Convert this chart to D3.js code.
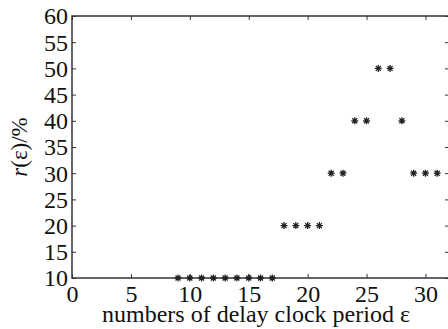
<!DOCTYPE html>
<html>
<head>
<meta charset="utf-8">
<script src="https://cdn.jsdelivr.net/npm/d3@7"></script>
<style>
  html, body { margin: 0; padding: 0; background: #fff; }
  svg { display: block; }
</style>
</head>
<body>
<div id="chart"></div>
<script>
// delay clock periods and the matching r(eps) values (%)
const periods = [9, 10, 11, 12, 13, 14, 15, 16, 17, 18, 19, 20, 21, 22, 23, 24, 25, 26, 27, 28, 29, 30, 31];
const rates   = [10, 10, 10, 10, 10, 10, 10, 10, 10, 20, 20, 20, 20, 30, 30, 40, 40, 50, 50, 40, 30, 30, 30];
const xTicks = [0, 5, 10, 15, 20, 25, 30];
const yTicks = [10, 15, 20, 25, 30, 35, 40, 45, 50, 55, 60];

const W = 448, H = 329;
const margin = { top: 16, right: -1, bottom: 51, left: 72 };
const width = W - margin.left - margin.right,
      height = H - margin.top - margin.bottom;
const serif = "Liberation Serif, Tinos, DejaVu Serif, Times New Roman, serif";

const svg = d3.select("#chart").append("svg")
    .attr("width", W)
    .attr("height", H);

const x = d3.scaleLinear().domain([0, 32]).range([0, width]);
const y = d3.scaleLinear().domain([10, 60]).range([height, 0]);

const g = svg.append("g")
    .attr("transform", "translate(" + margin.left + "," + margin.top + ")");

const axisColor = "#333";
const tickLen = 4;

// box
g.append("rect")
    .attr("x", 0).attr("y", 0)
    .attr("width", width).attr("height", height)
    .attr("fill", "none")
    .attr("stroke", axisColor)
    .attr("stroke-width", 1.5);

// bottom axis, ticks pointing inward
const xb = g.append("g")
    .attr("transform", "translate(0," + height + ")")
    .call(d3.axisBottom(x).tickValues(xTicks).tickSize(-tickLen).tickPadding(0))
    .attr("font-family", serif)
    .attr("font-size", 24);
xb.select(".domain").remove();
xb.selectAll("line").attr("stroke", axisColor);
xb.selectAll("text")
    .attr("y", 24)
    .attr("dy", null)
    .attr("fill", "#111");

// top axis ticks
const xt = g.append("g")
    .call(d3.axisTop(x).tickValues(xTicks).tickSize(-tickLen).tickFormat(""));
xt.select(".domain").remove();
xt.selectAll("line").attr("stroke", axisColor);

// left axis
const yl = g.append("g")
    .call(d3.axisLeft(y).tickValues(yTicks).tickSize(-tickLen).tickPadding(4))
    .attr("font-family", serif)
    .attr("font-size", 24);
yl.select(".domain").remove();
yl.selectAll("line").attr("stroke", axisColor);
yl.selectAll("text")
    .attr("x", -4)
    .attr("dy", "0.33em")
    .attr("fill", "#111");

// right axis ticks
const yr = g.append("g")
    .attr("transform", "translate(" + width + ",0)")
    .call(d3.axisRight(y).tickValues(yTicks).tickSize(-tickLen).tickFormat(""));
yr.select(".domain").remove();
yr.selectAll("line").attr("stroke", axisColor);

// asterisk markers
const star = "M-3.5,0L3.5,0M0,-3.5L0,3.5M-2.5,-2.5L2.5,2.5M-2.5,2.5L2.5,-2.5";
g.selectAll(".pt")
    .data(periods.map((p, i) => [p, rates[i]]))
    .enter().append("path")
    .attr("class", "pt")
    .attr("transform", d => "translate(" + x(d[0]) + "," + y(d[1]) + ")")
    .attr("d", star)
    .attr("stroke", "#222")
    .attr("stroke-width", 1.3)
    .attr("fill", "none");

// x label
svg.append("text")
    .attr("x", 256)
    .attr("y", 322)
    .attr("text-anchor", "middle")
    .attr("fill", "#111")
    .attr("font-family", serif)
    .attr("font-size", 24)
    .text("numbers of delay clock period ε");

// y label
const yl2 = svg.append("text")
    .attr("transform", "translate(27," + (margin.top + height / 2) + ") rotate(-90)")
    .attr("text-anchor", "middle")
    .attr("fill", "#111")
    .attr("font-family", serif)
    .attr("font-size", 23);
yl2.append("tspan").attr("font-style", "italic").text("r");
yl2.append("tspan").text("(ε)/%");
</script>
</body>
</html>
